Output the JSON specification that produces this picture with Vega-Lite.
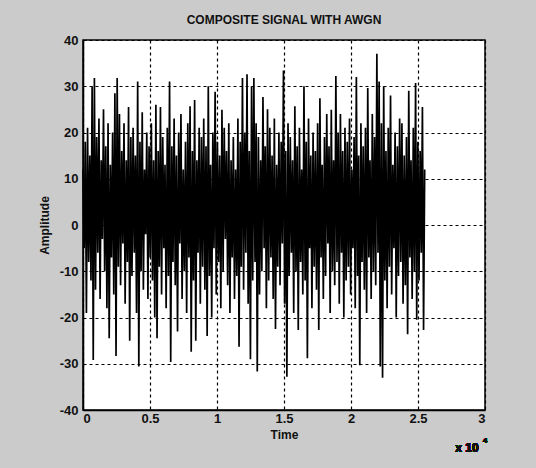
{
  "$schema": "https://vega.github.io/schema/vega-lite/v6.json",
  "width": 402,
  "height": 370,
  "autosize": "none",
  "padding": {"left": 83, "top": 40, "right": 51, "bottom": 58},
  "background": "#cbcbcb",
  "title": {"text": "COMPOSITE SIGNAL WITH AWGN", "font": "Liberation Sans Narrow, Liberation Sans", "fontSize": 12, "fontWeight": "bold", "color": "#111", "offset": 7, "anchor": "middle"},
  "config": {
    "view": {"fill": "white", "stroke": "black", "strokeWidth": 1.5},
    "axis": {"labelFont": "Liberation Sans Narrow, Liberation Sans", "labelFontSize": 13, "labelFontWeight": "bold", "labelColor": "#111", "titleFont": "Liberation Sans Narrow, Liberation Sans", "titleFontSize": 12, "titleFontWeight": "bold", "titleColor": "#111", "grid": true, "gridColor": "black", "gridOpacity": 1, "gridDash": [3, 3], "gridWidth": 1.2, "domainColor": "black", "domainWidth": 1.5, "ticks": false}
  },
  "data": {"values": [
{"t":0,"a":12},{"t":85,"a":-5},{"t":170,"a":18},{"t":255,"a":-19},{"t":340,"a":21},{"t":425,"a":-8},{"t":510,"a":15},{"t":595,"a":-12},{"t":680,"a":30},{"t":765,"a":-29.2},
{"t":850,"a":31.8},{"t":935,"a":-14},{"t":1020,"a":19},{"t":1105,"a":-6},{"t":1190,"a":23},{"t":1275,"a":-16},{"t":1360,"a":14},{"t":1445,"a":-3},{"t":1530,"a":25},{"t":1615,"a":-10},
{"t":1700,"a":17},{"t":1785,"a":-18},{"t":1870,"a":22},{"t":1955,"a":-24.5},{"t":2040,"a":13},{"t":2125,"a":-7},{"t":2210,"a":20},{"t":2295,"a":-15},{"t":2380,"a":28.5},{"t":2465,"a":-28.3},
{"t":2550,"a":31.8},{"t":2635,"a":-9},{"t":2720,"a":24},{"t":2805,"a":-13},{"t":2890,"a":16},{"t":2975,"a":-4},{"t":3060,"a":22},{"t":3145,"a":-17},{"t":3230,"a":14},{"t":3315,"a":-8},
{"t":3400,"a":25.5},{"t":3485,"a":-25},{"t":3570,"a":19},{"t":3655,"a":-11},{"t":3740,"a":21},{"t":3825,"a":-6},{"t":3910,"a":15},{"t":3995,"a":-19},{"t":4080,"a":31},{"t":4165,"a":-30.6},
{"t":4250,"a":18},{"t":4335,"a":-10},{"t":4420,"a":24.4},{"t":4505,"a":-14},{"t":4590,"a":12},{"t":4675,"a":-2},{"t":4760,"a":20},{"t":4845,"a":-16},{"t":4930,"a":17},{"t":5015,"a":-7},
{"t":5100,"a":22},{"t":5185,"a":-12},{"t":5270,"a":14},{"t":5355,"a":-20},{"t":5440,"a":26},{"t":5525,"a":-24.5},{"t":5610,"a":16},{"t":5695,"a":-9},{"t":5780,"a":25.5},{"t":5865,"a":-15},
{"t":5950,"a":19},{"t":6035,"a":-5},{"t":6120,"a":13},{"t":6205,"a":-18},{"t":6290,"a":21},{"t":6375,"a":-11},{"t":6460,"a":31},{"t":6545,"a":-29.6},{"t":6630,"a":17},{"t":6715,"a":-8},
{"t":6800,"a":23},{"t":6885,"a":-13},{"t":6970,"a":15},{"t":7055,"a":-23},{"t":7140,"a":20},{"t":7225,"a":-4},{"t":7310,"a":24},{"t":7395,"a":-16},{"t":7480,"a":12},{"t":7565,"a":-10},
{"t":7650,"a":18},{"t":7735,"a":-19},{"t":7820,"a":22},{"t":7905,"a":-7},{"t":7990,"a":25.7},{"t":8075,"a":-27.4},{"t":8160,"a":16},{"t":8245,"a":-12},{"t":8330,"a":27},{"t":8415,"a":-25},
{"t":8500,"a":14},{"t":8585,"a":-6},{"t":8670,"a":21},{"t":8755,"a":-17},{"t":8840,"a":19},{"t":8925,"a":-9},{"t":9010,"a":23},{"t":9095,"a":-14},{"t":9180,"a":17},{"t":9265,"a":-24},
{"t":9350,"a":30},{"t":9435,"a":-11},{"t":9520,"a":13},{"t":9605,"a":-20},{"t":9690,"a":20},{"t":9775,"a":-5},{"t":9860,"a":28.8},{"t":9945,"a":-15},{"t":10030,"a":18},{"t":10115,"a":-8},
{"t":10200,"a":15},{"t":10285,"a":-18},{"t":10370,"a":24.9},{"t":10455,"a":-10},{"t":10540,"a":21},{"t":10625,"a":-3},{"t":10710,"a":16},{"t":10795,"a":-13},{"t":10880,"a":22},{"t":10965,"a":-19},
{"t":11050,"a":14},{"t":11135,"a":-7},{"t":11220,"a":19},{"t":11305,"a":-16},{"t":11390,"a":12},{"t":11475,"a":-11},{"t":11560,"a":23},{"t":11645,"a":-26.3},{"t":11730,"a":18},{"t":11815,"a":-9},
{"t":11900,"a":31.8},{"t":11985,"a":-14},{"t":12070,"a":20},{"t":12155,"a":-6},{"t":12240,"a":32.6},{"t":12325,"a":-17},{"t":12410,"a":16},{"t":12495,"a":-29},{"t":12580,"a":30},{"t":12665,"a":-12},
{"t":12750,"a":31.8},{"t":12835,"a":-8},{"t":12920,"a":22},{"t":13005,"a":-31.7},{"t":13090,"a":19},{"t":13175,"a":-15},{"t":13260,"a":14},{"t":13345,"a":-10},{"t":13430,"a":27.7},{"t":13515,"a":-5},
{"t":13600,"a":17},{"t":13685,"a":-18},{"t":13770,"a":25},{"t":13855,"a":-12},{"t":13940,"a":21},{"t":14025,"a":-7},{"t":14110,"a":15},{"t":14195,"a":-16},{"t":14280,"a":23},{"t":14365,"a":-22.5},
{"t":14450,"a":13},{"t":14535,"a":-9},{"t":14620,"a":20},{"t":14705,"a":-13},{"t":14790,"a":18},{"t":14875,"a":-4},{"t":14960,"a":33.4},{"t":15045,"a":-17},{"t":15130,"a":16},{"t":15215,"a":-32.8},
{"t":15300,"a":22},{"t":15385,"a":-11},{"t":15470,"a":19},{"t":15555,"a":-6},{"t":15640,"a":14},{"t":15725,"a":-19},{"t":15810,"a":25.7},{"t":15895,"a":-10},{"t":15980,"a":17},{"t":16065,"a":-22.7},
{"t":16150,"a":21},{"t":16235,"a":-8},{"t":16320,"a":12},{"t":16405,"a":-15},{"t":16490,"a":30},{"t":16575,"a":-12},{"t":16660,"a":18},{"t":16745,"a":-28.8},{"t":16830,"a":23},{"t":16915,"a":-5},
{"t":17000,"a":15},{"t":17085,"a":-18},{"t":17170,"a":20},{"t":17255,"a":-9},{"t":17340,"a":16},{"t":17425,"a":-14},{"t":17510,"a":22},{"t":17595,"a":-22.7},{"t":17680,"a":27.4},{"t":17765,"a":-7},
{"t":17850,"a":13},{"t":17935,"a":-16},{"t":18020,"a":19},{"t":18105,"a":-11},{"t":18190,"a":24},{"t":18275,"a":-4},{"t":18360,"a":17},{"t":18445,"a":-19},{"t":18530,"a":24.9},{"t":18615,"a":-10},
{"t":18700,"a":14},{"t":18785,"a":-13},{"t":18870,"a":32.2},{"t":18955,"a":-8},{"t":19040,"a":20},{"t":19125,"a":-17},{"t":19210,"a":24},{"t":19295,"a":-6},{"t":19380,"a":16},{"t":19465,"a":-20},
{"t":19550,"a":21},{"t":19635,"a":-12},{"t":19720,"a":18},{"t":19805,"a":-9},{"t":19890,"a":23},{"t":19975,"a":-15},{"t":20060,"a":12},{"t":20145,"a":-5},{"t":20230,"a":19},{"t":20315,"a":-18},
{"t":20400,"a":32},{"t":20485,"a":-11},{"t":20570,"a":15},{"t":20655,"a":-30.3},{"t":20740,"a":22},{"t":20825,"a":-8},{"t":20910,"a":17},{"t":20995,"a":-14},{"t":21080,"a":21},{"t":21165,"a":-19},
{"t":21250,"a":29.6},{"t":21335,"a":-7},{"t":21420,"a":14},{"t":21505,"a":-16},{"t":21590,"a":24},{"t":21675,"a":-10},{"t":21760,"a":19},{"t":21845,"a":-13},{"t":21930,"a":37},{"t":22015,"a":-6},
{"t":22100,"a":31},{"t":22185,"a":-30.6},{"t":22270,"a":22},{"t":22355,"a":-33},{"t":22440,"a":30},{"t":22525,"a":-12},{"t":22610,"a":16},{"t":22695,"a":-18},{"t":22780,"a":21},{"t":22865,"a":-9},
{"t":22950,"a":28},{"t":23035,"a":-15},{"t":23120,"a":13},{"t":23205,"a":-5},{"t":23290,"a":20},{"t":23375,"a":-20},{"t":23460,"a":17},{"t":23545,"a":-11},{"t":23630,"a":23},{"t":23715,"a":-8},
{"t":23800,"a":22},{"t":23885,"a":-17},{"t":23970,"a":15},{"t":24055,"a":-13},{"t":24140,"a":19},{"t":24225,"a":-23.6},{"t":24310,"a":29},{"t":24395,"a":-7},{"t":24480,"a":14},{"t":24565,"a":-16},
{"t":24650,"a":21},{"t":24735,"a":-10},{"t":24820,"a":30.7},{"t":24905,"a":-20.5},{"t":24990,"a":18},{"t":25075,"a":-12},{"t":25160,"a":16},{"t":25245,"a":-6},{"t":25330,"a":25.5},{"t":25415,"a":-22.7},
{"t":25500,"a":12}
  ]},
  "layer": [
    {
      "mark": {"type": "line", "color": "black", "strokeWidth": 1.7},
      "encoding": {
        "x": {"field": "t", "type": "quantitative", "scale": {"domain": [0, 30000], "nice": false},
              "axis": {"values": [0, 5000, 10000, 15000, 20000, 25000, 30000], "labelExpr": "'' + datum.value / 10000", "title": "Time", "labelPadding": 2, "titlePadding": 4}},
        "y": {"field": "a", "type": "quantitative", "scale": {"domain": [-40, 40], "nice": false},
              "axis": {"values": [-40, -30, -20, -10, 0, 10, 20, 30, 40], "labelExpr": "'' + datum.value", "title": "Amplitude", "labelPadding": 5, "titlePadding": 8}}
      }
    },
    {
      "mark": {"type": "text", "text": "x 10", "font": "Liberation Sans Narrow, Liberation Sans", "fontSize": 12, "fontWeight": "bold", "color": "#111", "align": "center", "baseline": "middle"},
      "encoding": {"x": {"datum": 28650}, "y": {"datum": -48.3}}
    },
    {
      "mark": {"type": "text", "text": "4", "font": "Liberation Sans Narrow, Liberation Sans", "fontSize": 8, "fontWeight": "bold", "color": "#111", "align": "left", "baseline": "middle"},
      "encoding": {"x": {"datum": 29850}, "y": {"datum": -46.6}}
    }
  ]
}
